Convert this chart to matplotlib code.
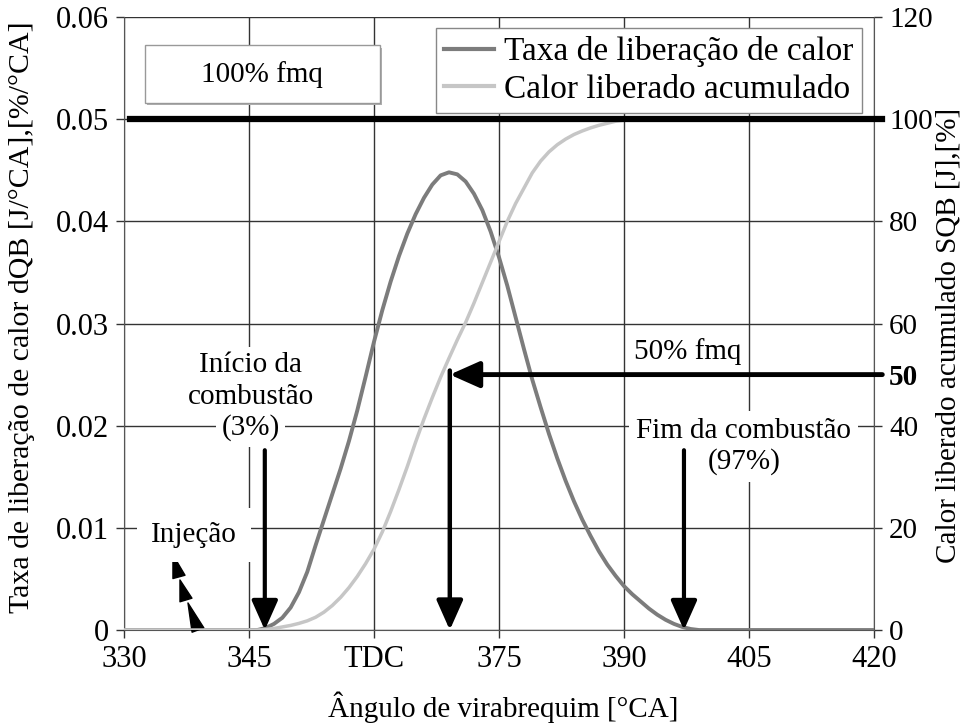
import numpy as np
import matplotlib
matplotlib.use('Agg')
import matplotlib.pyplot as plt
from matplotlib.patches import Rectangle

plt.rcParams['font.family'] = ['Liberation Serif', 'DejaVu Serif']
plt.rcParams['font.size'] = 21

# dados (angulo em graus de virabrequim)
ANGULO = [330, 346, 347, 348, 349, 350, 351, 352, 353, 354, 355, 356, 357, 358, 359,
          360, 361, 362, 363, 364, 365, 366, 367, 368, 369, 370, 371, 372, 373, 374,
          375, 376, 377, 378, 379, 380, 381, 382, 383, 384, 385, 386, 387, 388, 389,
          390, 391, 392, 393, 394, 395, 396, 397, 398, 399, 420]
TAXA = [0, 0, 0.0002, 0.0006, 0.0012, 0.0022, 0.0037, 0.0057, 0.0083, 0.0108, 0.0133,
        0.0158, 0.0185, 0.0215, 0.0248, 0.0282, 0.0313, 0.0341, 0.0366, 0.0388, 0.0407,
        0.0423, 0.0436, 0.0445, 0.0448, 0.0446, 0.0439, 0.0427, 0.0411, 0.0390, 0.0365,
        0.0337, 0.0306, 0.0275, 0.0245, 0.0218, 0.0192, 0.0168, 0.0146, 0.0126, 0.0108,
        0.0092, 0.0077, 0.0064, 0.0053, 0.0043, 0.0035, 0.0028, 0.0021, 0.0015, 0.0010,
        0.0006, 0.0003, 0.0001, 0, 0]
ACUMULADO = [0, 0, 0.1, 0.3, 0.6, 0.9, 1.3, 1.8, 2.5, 3.5, 4.8, 6.4, 8.3, 10.5, 13.0,
             15.8, 19.2, 23.2, 27.5, 32.0, 36.8, 41.3, 45.5, 49.5, 53.2, 56.8, 60.2, 64.0,
             68.0, 72.0, 76.0, 80.0, 83.5, 86.5, 89.5, 91.8, 93.6, 95.0, 96.1, 97.0, 97.7,
             98.3, 98.8, 99.2, 99.6, 99.8, 99.9, 100, 100, 100, 100, 100, 100, 100, 100, 100]

XTICKS = [330, 345, 360, 375, 390, 405, 420]
XLABELS = ['330', '345', 'TDC', '375', '390', '405', '420']
YTICKS_L = [0, 0.01, 0.02, 0.03, 0.04, 0.05, 0.06]
YLABELS_L = ['0', '0.01', '0.02', '0.03', '0.04', '0.05', '0.06']
YTICKS_R = [0, 20, 40, 50, 60, 80, 100, 120]

# marcos da combustao
ANG_INICIO = 346.9   # 3%
ANG_50 = 369.1       # 50%
ANG_FIM = 397.2      # 97%
# injecao: segmentos (base -> ponta)
INJ_SEG = [((336.60, 0.0052), (335.88, 0.00735)),
           ((337.44, 0.00294), (336.72, 0.0049)),
           ((338.88, 0.0), (337.68, 0.00265))]

C_TAXA = '#7c7c7c'
C_ACUM = '#c6c6c6'

fig = plt.figure(figsize=(9.64, 7.24), dpi=100)
ax = fig.add_axes([0.1286, 0.1298, 0.778, 0.8467])
ax2 = ax.twinx()

ax.set_xlim(330, 420)
ax.set_ylim(0, 0.06)
ax2.set_ylim(0, 120)

# grade
for xt in XTICKS:
    ax.axvline(xt, color='#333333', lw=1, zorder=0)
for yt in YTICKS_L:
    ax.axhline(yt, color='#333333', lw=1, zorder=0)

l1, = ax.plot(ANGULO, TAXA, color=C_TAXA, lw=2.8, label='Taxa de liberação de calor', zorder=3)
l2, = ax2.plot(ANGULO, ACUMULADO, color=C_ACUM, lw=2.5, label='Calor liberado acumulado', zorder=2)

# linha de 100% fmq
ax2.plot([330.7, 421.0], [100, 100], color='black', lw=4.5, clip_on=False, zorder=4)

# seta de 50% fmq
seta = dict(arrowstyle='-|>,head_length=0.9,head_width=0.4', mutation_scale=20,
            color='black', shrinkA=0, shrinkB=0)
ax2.annotate('', xy=(ANG_50, 50), xytext=(421.0, 50), annotation_clip=False,
             arrowprops=dict(seta, lw=3.5), zorder=5)
ax2.annotate('', xy=(ANG_50, 0), xytext=(ANG_50, 50.8), annotation_clip=False,
             arrowprops=dict(seta, lw=3.2), zorder=5)

# setas de inicio e fim
ax.annotate('', xy=(ANG_INICIO, 0), xytext=(ANG_INICIO, 0.0176),
            arrowprops=dict(seta, lw=3), zorder=6)
ax.annotate('', xy=(ANG_FIM, 0), xytext=(ANG_FIM, 0.0176),
            arrowprops=dict(seta, lw=3), zorder=6)

# injecao
for (x0, y0), (x1, y1) in INJ_SEG:
    ax.annotate('', xy=(x1, y1), xytext=(x0, y0),
                arrowprops=dict(arrowstyle='wedge,tail_width=0.5,shrink_factor=0.5',
                                mutation_scale=18, color='black', shrinkA=0, shrinkB=0))

caixa = dict(facecolor='white', edgecolor='none', pad=4)
# inicio da combustao, uma caixa por linha
for txt, yy in zip(['Início da', 'combustão', '(3%)'], [0.0259, 0.0228, 0.0198]):
    ax.text(345.2, yy, txt, ha='center', va='center', bbox=caixa, zorder=5)
ax.text(338.4, 0.0093, 'Injeção', ha='center', va='center', bbox=dict(caixa, pad=10), zorder=5)
ax.text(404.4, 0.0180, 'Fim da combustão\n(97%)', ha='center', va='center',
        linespacing=1.2, bbox=dict(caixa, pad=5), zorder=5)
ax.text(397.7, 0.0273, '50% fmq', ha='center', va='center', zorder=5)

# caixa 100% fmq
ax.add_patch(Rectangle((0.031, 0.856), 0.313, 0.094, transform=ax.transAxes,
                       facecolor='#b0b0b0', edgecolor='none', zorder=6))
ax.add_patch(Rectangle((0.028, 0.86), 0.313, 0.094, transform=ax.transAxes,
                       facecolor='white', edgecolor='#999999', lw=1, zorder=7))
ax.text(0.1845, 0.907, '100% fmq', transform=ax.transAxes, ha='center', va='center', zorder=8)

# eixos
ax.set_xticks(XTICKS)
ax.set_xticklabels(XLABELS)
ax.set_yticks(YTICKS_L)
ax.set_yticklabels(YLABELS_L)
ax2.set_yticks(YTICKS_R)
lab = ax2.set_yticklabels([str(v) for v in YTICKS_R])
lab[YTICKS_R.index(50)].set_fontweight('bold')

for a in (ax, ax2):
    a.tick_params(direction='out', length=6, width=1, color='#333333', pad=5)
    a.spines['top'].set_visible(False)
    for s in ('left', 'right', 'bottom'):
        a.spines[s].set_color('#555555')
ax.tick_params(labelsize=22)
ax2.tick_params(labelsize=21)
ax.spines['right'].set_visible(False)
ax2.spines['left'].set_visible(False)
ax2.spines['bottom'].set_visible(False)

ax.set_xlabel('Ângulo de virabrequim [°CA]', fontsize=21, va='top')
ax.xaxis.set_label_coords(0.505, -0.1)
ax.set_ylabel('Taxa de liberação de calor dQB [J/°CA],[%/°CA]', fontsize=21.5, va='center')
ax.yaxis.set_label_coords(-0.136, 0.51)
ax2.set_ylabel('Calor liberado acumulado SQB [J],[%]', fontsize=21, va='center')
ax2.yaxis.set_label_coords(1.099, 0.48)

leg = ax2.legend(handles=[l1, l2], loc='upper right', bbox_to_anchor=(0.984, 0.982),
                 borderaxespad=0, fancybox=False, edgecolor='#888888', framealpha=1,
                 handlelength=1.5, handletextpad=0.3, borderpad=0.25, labelspacing=0.2,
                 fontsize=24)
leg.get_frame().set_linewidth(1)
for h in leg.get_lines():
    h.set_linewidth(3)
leg.set_zorder(10)

fig.savefig('out.png', dpi=100)
